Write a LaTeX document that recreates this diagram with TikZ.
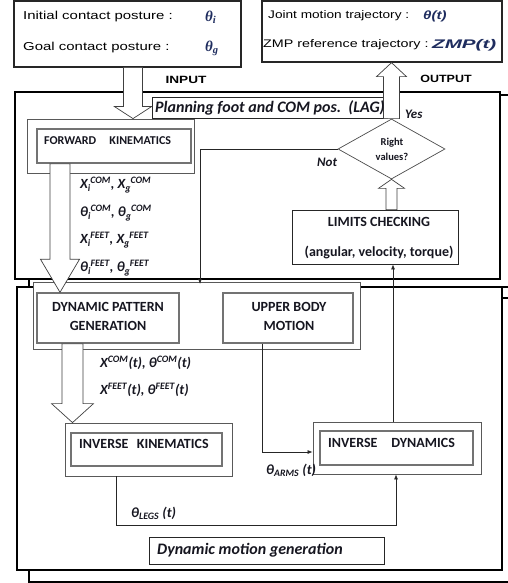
\documentclass[tikz,border=0pt]{standalone}
\usepackage{fontspec}
\setmainfont{Carlito}
\newfontfamily\arial{Liberation Sans}
\newfontfamily\lserif{Liberation Serif}
\usetikzlibrary{arrows.meta,calc,fit,shapes.geometric}
\definecolor{navy}{RGB}{31,45,95}
\definecolor{txt}{RGB}{22,22,32}
\newcommand\su[2]{\textsubscript{#1}\kern-0.5pt\textsuperscript{#2}}
\newcommand\harrow[5]{%
  \draw[hollow] let \p1=(#1), \p2=(#2), \n1={sign(\y1-(\y2))} in
    (\x1-#3pt,\y1) -- (\x1-#3pt,\y2+\n1*#5pt) -- (\x1-#4pt,\y2+\n1*#5pt) -- (\x1,\y2)
    -- (\x1+#4pt,\y2+\n1*#5pt) -- (\x1+#3pt,\y2+\n1*#5pt) -- (\x1+#3pt,\y1) -- cycle;}
\tikzset{
  frame/.style={draw=black, line width=2pt, inner sep=0pt},
  topbox/.style={draw=black!85, line width=1.3pt, inner sep=0pt, fill=white},
  obox/.style={draw=black!65, line width=0.8pt, inner sep=0pt, fill=white},
  ibox/.style={draw=black!55, line width=1.4pt, inner sep=0pt, fill=white},
  lbox/.style={draw=black!85, line width=0.8pt, inner sep=0pt, fill=white},
  hollow/.style={draw=black!75, line width=0.7pt, fill=white},
  conn/.style={draw=black!85, line width=0.7pt},
  tipped/.style={-{Latex[length=5pt,width=4pt]}},
  atext/.style={inner sep=0pt, anchor=west, text=black, font=\arial\fontsize{11.5}{14}\selectfont},
  btext/.style={inner sep=0pt, text=txt, font=\bfseries\fontsize{14}{19}\selectfont, align=center},
  labs/.style={inner sep=0pt, anchor=west, text=txt, font=\bfseries\itshape\fontsize{14}{16}\selectfont},
}
\begin{document}
\begin{tikzpicture}[x=1pt,y=-1pt]
\useasboundingbox (0,0) rectangle (508,583);
% frames
\node[frame, fit={(29,95) (515,287)}] (topB) {};
\node[frame, fill=white, fit={(15,92) (500,279)}] (topA) {};
\node[frame, fit={(29,298) (515,582)}] (lowB) {};
\node[frame, fill=white, fit={(17,287) (502,570)}] (lowA) {};
% top boxes
\node[topbox, fit={(14,1) (241,67)}] (inbox) {};
\node[topbox, fit={(262,1) (502,62)}] (outbox) {};
% planning section
\node[lbox, fit={(152,97) (387,118)}] (plan) {};
\node[obox, fit={(27,119) (194,173)}] (fko) {};
\node[ibox, fit={(37,129) (191,163)}] (fki) {};
\node[diamond, draw=black!70, line width=0.7pt, fill=white, minimum width=107pt, minimum height=60pt, inner sep=0pt, aspect=1.78] (dia) at (391.5,149) {};
\node[lbox, fit={(292,210) (458,264)}] (lim) {};
% lower section
\node[obox, fit={(33,282) (360,349)}] (grp) {};
\node[ibox, fit={(37,293) (179,343)}] (dpgi) {};
\node[ibox, fit={(223,293) (353,343)}] (ubi) {};
\node[obox, fit={(65,423) (232,476)}] (iko) {};
\node[ibox, fit={(71,433) (222,466)}] (iki) {};
\node[obox, fit={(313,422) (481,474)}] (ido) {};
\node[ibox, fit={(320,431) (473,465)}] (idi) {};
\node[lbox, fit={(149,537) (384,564)}] (dmg) {};
% connectors
\coordinate (cnot) at (200,0);
\draw[conn, tipped, shorten >=2pt] (dia.west) -- (cnot |- dia.west) -- (cnot |- lowA.north);
\coordinate (cub) at (262,0);
\draw[conn, tipped] (cub |- ubi.south) |- ([yshift=-4pt]ido.west);
\coordinate (cik) at (116,0);
\coordinate (cid) at (396,0);
\coordinate (yleg) at (0,525);
\draw[conn, tipped] (cik |- iko.south) -- (cik |- yleg) -- (cid |- yleg) -- (cid |- ido.south);
\coordinate (clim) at (393,0);
\draw[conn, tipped] (clim |- ido.north) -- (clim |- lim.south);
% hollow arrows
\coordinate (cin) at (133,0);
\harrow{cin |- inbox.south}{cin |- fko.north}{9.5}{18.5}{12}
\coordinate (cfk) at (60,0);
\harrow{cfk |- fki.south}{cfk |- dpgi.north}{10}{19.5}{33}
\coordinate (cdp) at (72.5,0);
\harrow{cdp |- dpgi.south}{cdp |- iko.north}{10.5}{21}{19}
\harrow{dia.north}{dia.north |- outbox.south}{8}{15}{14}
\harrow{lim.north -| dia.south}{dia.south}{5.5}{13}{9}
% texts: top boxes
\node[atext] (tinit) at (23,17) {\scalebox{1.3}[1]{Initial contact posture :}};
\node[atext] (tgoal) at (23,48) {\scalebox{1.3}[1]{Goal contact posture :}};
\node[inner sep=0pt, anchor=west, text=navy, font=\lserif\bfseries\itshape\fontsize{15}{18}\selectfont] (thi) at (205,17) {θ\textsubscript{i}};
\node[inner sep=0pt, anchor=west, text=navy, font=\lserif\bfseries\itshape\fontsize{15}{18}\selectfont] (thg) at (205,48) {θ\textsubscript{g}};
\node[atext, font=\arial\fontsize{11}{14}\selectfont] (tjoint) at (268,16) {\scalebox{1.24}[1]{Joint motion trajectory :}};
\node[atext, font=\arial\fontsize{11}{14}\selectfont] (tzmp) at (263,45) {\scalebox{1.3}[1]{ZMP reference trajectory :}};
\node[atext, text=navy, font=\arial\bfseries\itshape\fontsize{12}{14}\selectfont] (tth) at (423,16) {\scalebox{1.25}[1]{θ(t)}};
\node[atext, text=navy, font=\arial\bfseries\itshape\fontsize{12.5}{14}\selectfont] (tzt) at (432,45) {\scalebox{1.65}[1]{ZMP(t)}};
\node[inner sep=0pt, text=black, font=\arial\bfseries\fontsize{10.5}{12}\selectfont] (tinput) at (186,80) {\scalebox{1.3}[1]{INPUT}};
\node[inner sep=0pt, text=black, font=\arial\bfseries\fontsize{10.5}{12}\selectfont] (toutput) at (446,79) {\scalebox{1.19}[1]{OUTPUT}};
% planning texts
\node[labs, font=\bfseries\itshape\fontsize{16}{18}\selectfont] (tplan) at (155,107.5) {Planning foot and COM pos.\ \ (LAG)};
\node[btext, anchor=west, font=\bfseries\fontsize{12}{14}\selectfont] (tfk) at (44,141) {FORWARD\hspace{1.1em}KINEMATICS};
\node[labs] (l1) at (80,185) {X\su{i}{COM}, X\su{g}{COM}};
\node[labs] (l2) at (80,213) {θ\su{i}{COM}, θ\su{g}{COM}};
\node[labs] (l3) at (80,240) {X\su{i}{FEET}, X\su{g}{FEET}};
\node[labs] (l4) at (80,268) {θ\su{i}{FEET}, θ\su{g}{FEET}};
\node[btext, font=\bfseries\fontsize{10.5}{15}\selectfont] (tdia) at (392,149.5) {Right\\values?};
\node[labs, font=\bfseries\itshape\fontsize{13}{15}\selectfont] (tyes) at (405,114) {Yes};
\node[labs, font=\bfseries\itshape\fontsize{13}{15}\selectfont] (tnot) at (317,162) {Not};
\node[btext] (tlim1) at (379,222) {LIMITS CHECKING};
\node[btext] (tlim2) at (379,252) {(angular, velocity, torque)};
% lower texts
\node[btext] (tdpg) at (108,316.5) {DYNAMIC PATTERN\\GENERATION};
\node[btext] (tub) at (289,316.5) {UPPER BODY\\MOTION};
\node[labs] (l5) at (100,363) {X\textsuperscript{COM}(t), θ\textsuperscript{COM}(t)};
\node[labs] (l6) at (100,390) {X\textsuperscript{FEET}(t), θ\textsuperscript{FEET}(t)};
\node[btext, anchor=west] (tik) at (79,444) {INVERSE\hspace{0.6em}KINEMATICS};
\node[btext, anchor=west] (tid) at (328,443) {INVERSE\hspace{1em}DYNAMICS};
\node[labs] (larms) at (266,470) {θ\textsubscript{ARMS} (t)};
\node[labs] (llegs) at (131,513) {θ\textsubscript{LEGS} (t)};
\node[labs, font=\bfseries\itshape\fontsize{16}{18}\selectfont] (tdmg) at (157,550.5) {Dynamic motion generation};
\end{tikzpicture}
\end{document}
